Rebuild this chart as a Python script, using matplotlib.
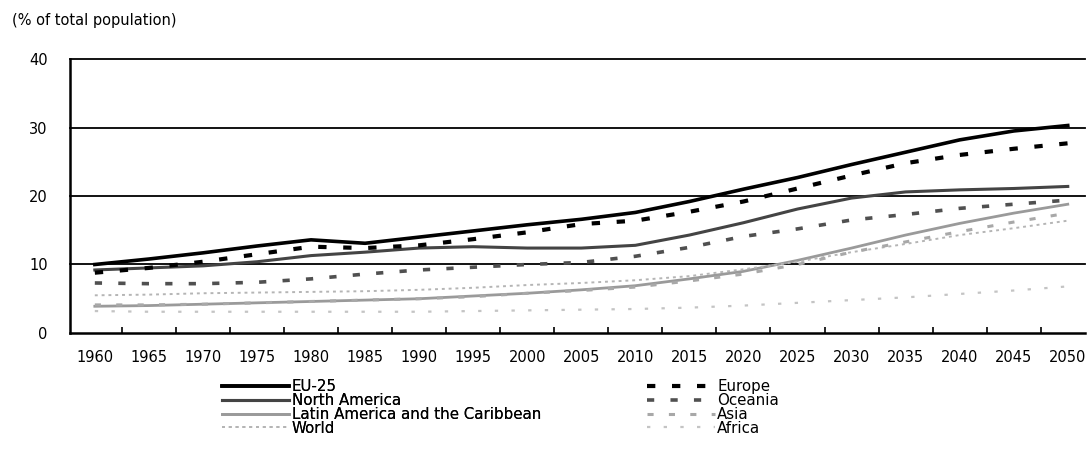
import matplotlib
matplotlib.use("Agg")
import matplotlib.pyplot as plt
from matplotlib.lines import Line2D

years = [1960, 1965, 1970, 1975, 1980, 1985, 1990, 1995, 2000, 2005,
         2010, 2015, 2020, 2025, 2030, 2035, 2040, 2045, 2050]

eu25 = [10.0, 10.8, 11.7, 12.7, 13.6, 13.1, 14.0, 14.9, 15.8, 16.6,
        17.6, 19.2, 21.0, 22.7, 24.6, 26.4, 28.2, 29.5, 30.3]
north_america = [9.2, 9.5, 9.8, 10.4, 11.3, 11.8, 12.4, 12.6, 12.4, 12.4,
                 12.8, 14.3, 16.1, 18.1, 19.7, 20.6, 20.9, 21.1, 21.4]
latin_america = [3.9, 4.0, 4.2, 4.4, 4.6, 4.8, 5.0, 5.4, 5.8, 6.3,
                 6.9, 7.9, 9.0, 10.6, 12.4, 14.3, 16.0, 17.5, 18.8]
world = [5.5, 5.6, 5.8, 5.9, 6.0, 6.1, 6.3, 6.6, 7.0, 7.3,
         7.7, 8.3, 9.3, 10.4, 11.8, 13.0, 14.3, 15.3, 16.4]
europe = [8.8, 9.5, 10.4, 11.5, 12.6, 12.4, 12.8, 13.7, 14.7, 15.9,
          16.4, 17.7, 19.2, 21.1, 23.0, 24.8, 26.0, 26.9, 27.7]
oceania = [7.3, 7.2, 7.2, 7.4, 7.9, 8.6, 9.2, 9.6, 10.0, 10.3,
           11.2, 12.5, 14.1, 15.2, 16.5, 17.3, 18.2, 18.8, 19.4]
asia = [4.1, 4.1, 4.2, 4.4, 4.6, 4.8, 5.0, 5.3, 5.8, 6.2,
        6.7, 7.6, 8.6, 10.0, 11.8, 13.3, 14.8, 16.2, 17.5]
africa = [3.2, 3.1, 3.1, 3.1, 3.1, 3.1, 3.1, 3.2, 3.3, 3.4,
          3.5, 3.7, 4.0, 4.4, 4.8, 5.2, 5.7, 6.2, 6.8]

left_labels = ["EU-25", "North America", "Latin America and the Caribbean", "World"]
right_labels = ["Europe", "Oceania", "Asia", "Africa"]
yticks = [0, 10, 20, 30, 40]

fig = plt.figure(figsize=(10.88, 4.58), dpi=100)
ax = fig.add_axes([0.0643, 0.273, 0.933, 0.598])
ax.set_xlim(1957.7, 2051.6)
ax.set_ylim(0, 40)

for v in yticks[1:]:
    ax.axhline(v, color="black", lw=1.3, clip_on=False, zorder=1)

styles = [
    (eu25, dict(color="black", lw=2.6, ls="-")),
    (north_america, dict(color="#444444", lw=2.2, ls="-")),
    (latin_america, dict(color="#9a9a9a", lw=2.0, ls="-")),
    (world, dict(color="#b5b5b5", lw=1.4, ls=(0, (1.5, 2)))),
    (europe, dict(color="black", lw=3.0, ls=(0, (2, 4)))),
    (oceania, dict(color="#505050", lw=2.6, ls=(0, (2, 4.5)))),
    (asia, dict(color="#a8a8a8", lw=2.2, ls=(0, (2, 5)))),
    (africa, dict(color="#c4c4c4", lw=1.6, ls=(0, (1.5, 6)))),
]
handles = []
for data, st in styles:
    ax.plot(years, data, zorder=3, **st)
    handles.append(Line2D([0], [0], **st))

ax.spines["top"].set_visible(False)
ax.spines["right"].set_visible(False)
ax.spines["left"].set_linewidth(1.8)
ax.spines["bottom"].set_linewidth(1.8)

ax.set_yticks(yticks)
ax.set_yticklabels([str(v) for v in yticks], fontsize=10.5)
ax.tick_params(axis="y", length=0, pad=16)
ax.set_xticks(years)
ax.set_xticklabels([str(y) for y in years], fontsize=10.5)
ax.tick_params(axis="x", length=0, pad=12)
ax.set_xticks([y + 2.5 for y in years[:-1]], minor=True)
ax.tick_params(axis="x", which="minor", direction="in", length=4, width=1.2)

fig.text(0.011, 0.955, "(% of total population)", fontsize=10.5, va="center", ha="left")

common = dict(loc="upper left", frameon=False, fontsize=10.8,
              handlelength=4.5, handletextpad=0.15, labelspacing=-0.08,
              borderpad=0, borderaxespad=0)
leg1 = fig.legend(handles[:4], left_labels, bbox_to_anchor=(0.204, 0.172), **common)
leg2 = fig.legend(handles[4:], right_labels, bbox_to_anchor=(0.595, 0.172), **common)
fig.add_artist(leg1)

fig.savefig("out.png", dpi=100)
